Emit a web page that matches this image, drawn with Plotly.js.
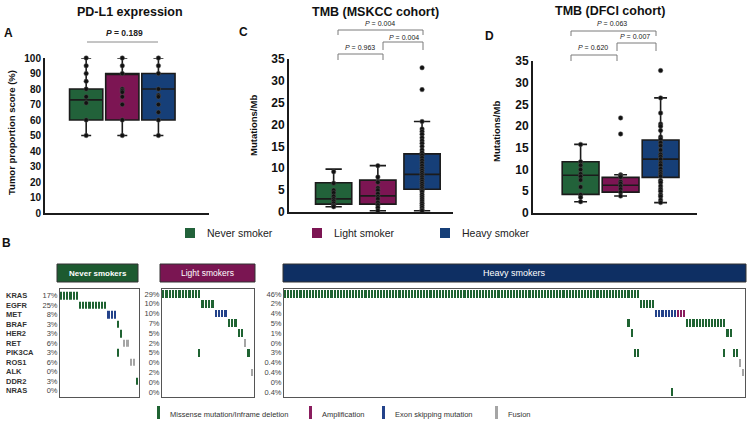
<!DOCTYPE html>
<html>
<head>
<meta charset="utf-8">
<script src="https://cdn.plot.ly/plotly-3.0.1.min.js"></script>
<style>
  html, body { margin: 0; padding: 0; background: #fff; }
  #chart { width: 750px; height: 423px; }
</style>
</head>
<body>
<div id="chart"></div>
<script>
'use strict';

const W = 750;
const H = 423;
const FONT = '"Liberation Sans", Arial, sans-serif';

const groups = ['Never smoker', 'Light smoker', 'Heavy smoker'];
const groupColors = ['#22623a', '#7c1553', '#163f78'];

// A: PD-L1 tumor proportion score (%)
const pdl1Low = [50, 50, 50];
const pdl1Q1 = [60, 60, 60];
const pdl1Median = [73, 90, 80];
const pdl1Q3 = [80, 90, 90];
const pdl1High = [100, 100, 100];
const pdl1Never = [100, 95, 90, 85, 80, 75, 71, 60, 50];
const pdl1Light = [100, 95, 90, 80, 79, 78, 75, 70, 60, 50];
const pdl1Heavy = [100, 95, 90, 80, 76, 75, 70, 65, 60, 50];
const pdl1Pvalue = '0.189';

// C: TMB, MSKCC cohort (mutations/Mb)
const mskccLow = [1.2, 0.3, 0.3];
const mskccQ1 = [1.8, 1.8, 5.2];
const mskccMedian = [3.0, 3.7, 8.6];
const mskccQ3 = [6.7, 7.3, 13.3];
const mskccHigh = [9.8, 10.6, 20.7];
const mskccNever = [9.2, 6.6, 5.0, 4.4, 3.6, 3.0, 2.5, 2.0, 1.5, 1.2];
const mskccLight = [10.6, 8.0, 6.8, 5.5, 5.0, 4.2, 3.5, 3.0, 2.2, 1.6, 1.0, 0.3];
const mskccHeavy = [33.0, 28.0, 20.7, 19.0, 18.4, 17.8, 17.0, 16.3, 15.7, 15.0, 14.2, 13.6,
  13.0, 12.4, 11.8, 11.2, 10.6, 10.0, 9.5, 9.0, 8.5, 8.0, 7.5, 7.0, 6.5, 6.0, 5.5, 5.0,
  4.6, 4.0, 3.5, 3.0, 2.5, 2.0, 1.5, 1.0, 0.5, 0.3];
// never vs light, light vs heavy, never vs heavy
const mskccPvalues = ['0.963', '0.004', '0.004'];

// D: TMB, DFCI cohort (mutations/Mb)
const dfciLow = [2.6, 3.9, 2.4];
const dfciQ1 = [4.3, 4.8, 8.2];
const dfciMedian = [8.7, 6.4, 12.4];
const dfciQ3 = [11.8, 8.2, 16.8];
const dfciHigh = [15.8, 8.8, 26.5];
const dfciNever = [15.8, 11.8, 11.0, 10.0, 9.0, 8.4, 7.6, 6.0, 4.2, 3.6, 2.6];
const dfciLight = [21.9, 18.2, 8.8, 8.6, 8.3, 7.2, 6.8, 6.2, 5.5, 4.8, 3.9];
const dfciHeavy = [32.8, 26.5, 23.0, 20.5, 20.0, 19.0, 17.5, 17.0, 16.2, 15.5, 14.5, 13.5,
  13.0, 12.4, 11.5, 11.0, 10.2, 9.5, 9.0, 8.5, 7.5, 7.0, 6.2, 5.5, 5.0, 4.2, 3.8, 3.0, 2.4];
const dfciPvalues = ['0.620', '0.007', '0.063'];

// B: oncoprint
const genes = ['KRAS', 'EGFR', 'MET', 'BRAF', 'HER2', 'RET', 'PIK3CA', 'ROS1', 'ALK', 'DDR2', 'NRAS'];
const neverPct = ['17%', '25%', '8%', '3%', '3%', '6%', '3%', '6%', '0%', '3%', '0%'];
const lightPct = ['29%', '10%', '10%', '7%', '5%', '2%', '5%', '0%', '2%', '0%', '0%'];
const heavyPct = ['46%', '2%', '4%', '5%', '1%', '0%', '3%', '0.4%', '0.4%', '0%', '0.4%'];
const altTypes = ['Missense mutation/Inframe deletion', 'Amplification', 'Exon skipping mutation', 'Fusion'];
const altColors = ['#1f6332', '#8a1d5e', '#23428a', '#a5a5a5'];

// [gene, first patient column, number of patients, alteration type 1..4]
const neverN = 25;
const neverAlts = [['KRAS', 0, 6, 1], ['EGFR', 6, 9, 1], ['MET', 15, 3, 3], ['BRAF', 18, 1, 1],
  ['PIK3CA', 18, 1, 1], ['HER2', 19, 1, 1], ['RET', 20, 2, 4], ['ROS1', 22, 2, 4], ['DDR2', 24, 1, 1]];
const lightN = 28;
const lightAlts = [['KRAS', 0, 12, 1], ['PIK3CA', 11, 1, 1], ['EGFR', 12, 4, 1], ['MET', 16, 4, 3],
  ['BRAF', 20, 3, 1], ['HER2', 23, 2, 1], ['RET', 25, 1, 4], ['PIK3CA', 26, 1, 1], ['ALK', 27, 1, 4]];
const heavyN = 149;
const heavyAlts = [['KRAS', 0, 115, 1], ['BRAF', 111, 1, 1], ['HER2', 112, 1, 1], ['PIK3CA', 113, 2, 1],
  ['EGFR', 115, 5, 1], ['MET', 120, 7, 3], ['NRAS', 125, 1, 1], ['MET', 127, 3, 2], ['BRAF', 130, 13, 1],
  ['PIK3CA', 142, 1, 1], ['HER2', 143, 2, 1], ['PIK3CA', 145, 2, 1], ['ROS1', 147, 1, 4], ['ALK', 148, 1, 4]];

// pixel -> paper helpers
const fx = px => px / W;
const fy = py => 1 - py / H;

function boxPanel(sfx, low, q1, med, q3, high, points, boxWidth, whisker) {
  const traces = [];
  groups.forEach((g, i) => {
    traces.push({
      type: 'box',
      x: [g],
      lowerfence: [low[i]],
      q1: [q1[i]],
      median: [med[i]],
      q3: [q3[i]],
      upperfence: [high[i]],
      fillcolor: groupColors[i],
      line: {color: '#1b1b1b', width: 1.6},
      width: boxWidth,
      whiskerwidth: whisker,
      boxpoints: false,
      xaxis: 'x' + sfx,
      yaxis: 'y' + sfx,
      showlegend: false,
      hoverinfo: 'skip'
    });
  });
  points.forEach((vals, i) => {
    traces.push({
      type: 'scatter',
      mode: 'markers',
      x: vals.map(() => groups[i]),
      y: vals,
      marker: {size: 4.5, color: '#111', line: {color: '#555', width: 0.5}},
      xaxis: 'x' + sfx,
      yaxis: 'y' + sfx,
      showlegend: false,
      hoverinfo: 'skip',
      cliponaxis: false
    });
  });
  return traces;
}

function oncoTrace(sfx, n, alts) {
  const z = genes.map(() => new Array(n).fill(null));
  alts.forEach(([gene, start, count, type]) => {
    const row = genes.indexOf(gene);
    for (let k = start; k < start + count; k++) z[row][k] = type;
  });
  const cols = [];
  for (let k = 0; k < n; k++) cols.push(k);
  return {
    type: 'heatmap',
    x: cols,
    y: genes,
    z: z,
    zmin: 0.5,
    zmax: 4.5,
    colorscale: [
      [0, altColors[0]], [0.25, altColors[0]],
      [0.25, altColors[1]], [0.5, altColors[1]],
      [0.5, altColors[2]], [0.75, altColors[2]],
      [0.75, altColors[3]], [1, altColors[3]]
    ],
    showscale: false,
    xgap: 1,
    ygap: 2,
    xaxis: 'x' + sfx,
    yaxis: 'y' + sfx,
    hoverinfo: 'skip'
  };
}

const data = [].concat(
  boxPanel('', pdl1Low, pdl1Q1, pdl1Median, pdl1Q3, pdl1High, [pdl1Never, pdl1Light, pdl1Heavy], 0.92, 0.3),
  boxPanel('2', mskccLow, mskccQ1, mskccMedian, mskccQ3, mskccHigh, [mskccNever, mskccLight, mskccHeavy], 0.82, 0.45),
  boxPanel('3', dfciLow, dfciQ1, dfciMedian, dfciQ3, dfciHigh, [dfciNever, dfciLight, dfciHeavy], 0.92, 0.35),
  [oncoTrace('4', neverN, neverAlts), oncoTrace('5', lightN, lightAlts), oncoTrace('6', heavyN, heavyAlts)]
);

const boxX = {showgrid: false, zeroline: false, showline: true, linecolor: '#1b1b1b', linewidth: 2,
  ticks: '', showticklabels: false, type: 'category', fixedrange: true};
const boxY = {showgrid: false, zeroline: false, showline: true, linecolor: '#1b1b1b', linewidth: 2,
  ticks: '', fixedrange: true};
const tickBold = size => ({family: FONT, size: size, color: '#111', weight: 'bold'});

const oncoX = {showgrid: false, zeroline: false, showline: true, mirror: true, linecolor: '#555', linewidth: 1,
  ticks: '', showticklabels: false, fixedrange: true};
const oncoY = {showgrid: false, zeroline: false, showline: true, mirror: true, linecolor: '#555', linewidth: 1,
  ticks: '', type: 'category', autorange: 'reversed', tickvals: genes,
  tickfont: {family: FONT, size: 7.5, color: '#444'}, fixedrange: true};
const oncoDomY = [fy(397), fy(289)];

const annotations = [];
const shapes = [];

function text(str, x, y, size, opts) {
  annotations.push(Object.assign({
    text: str, x: fx(x), y: fy(y), xref: 'paper', yref: 'paper', showarrow: false,
    xanchor: 'center', yanchor: 'middle',
    font: {family: FONT, size: size, color: '#111'}
  }, opts || {}));
}

function line(x0, y0, x1, y1, color, width) {
  shapes.push({type: 'line', xref: 'paper', yref: 'paper', x0: fx(x0), y0: fy(y0), x1: fx(x1), y1: fy(y1),
    line: {color: color, width: width}});
}

function rect(x0, y0, x1, y1, fill, border) {
  shapes.push({type: 'rect', xref: 'paper', yref: 'paper', x0: fx(x0), y0: fy(y0), x1: fx(x1), y1: fy(y1),
    fillcolor: fill, line: {color: border || fill, width: border ? 1 : 0}});
}

function bracket(x0, x1, top, leg, pval, textY, textX) {
  shapes.push({type: 'path', xref: 'paper', yref: 'paper',
    path: 'M' + fx(x0) + ',' + fy(leg) + ' L' + fx(x0) + ',' + fy(top) + ' L' + fx(x1) + ',' + fy(top) +
      ' L' + fx(x1) + ',' + fy(leg),
    line: {color: '#7a7a7a', width: 1}});
  text('<i>P</i> = ' + pval, textX, textY, 7, {font: {family: FONT, size: 7, color: '#222'}});
}

// panel titles and letters
const titleFont = {family: FONT, size: 12.5, color: '#111', weight: 'bold'};
text('PD-L1 expression', 130, 12, 12.5, {font: titleFont});
text('TMB (MSKCC cohort)', 375, 12, 12.5, {font: titleFont});
text('TMB (DFCI cohort)', 610, 11, 12.5, {font: titleFont});
const letterFont = {family: FONT, size: 12, color: '#111', weight: 'bold'};
text('A', 8, 33, 12, {font: letterFont});
text('C', 243, 32, 12, {font: letterFont});
text('D', 489, 36, 12, {font: letterFont});
text('B', 6, 243, 12, {font: letterFont});

// y-axis titles
const axTitleFont = {family: FONT, size: 9.5, color: '#111', weight: 'bold'};
text('Tumor proportion score (%)', 11, 133, 9.5, {font: axTitleFont, textangle: -90});
text('Mutations/Mb', 253, 126, 9.5, {font: axTitleFont, textangle: -90});
text('Mutations/Mb', 496, 132, 9.5, {font: axTitleFont, textangle: -90});

// p-values
line(87, 42, 158, 42, '#8a8a8a', 1);
text('<i>P</i> = ' + pdl1Pvalue, 124, 33, 8.5, {font: {family: FONT, size: 8.5, color: '#222', weight: 'bold'}});
bracket(338, 383, 54, 60, mskccPvalues[0], 47.5, 360);
bracket(383, 423, 42, 50, mskccPvalues[1], 37, 404);
bracket(338, 423, 30, 35, mskccPvalues[2], 23.5, 380);
bracket(571, 617, 55, 61, dfciPvalues[0], 48, 593);
bracket(617, 656, 43, 51, dfciPvalues[1], 36, 635);
bracket(571, 656, 31, 36, dfciPvalues[2], 23.5, 612);

// group legend
const legendX = [185, 312, 440];
groups.forEach((g, i) => {
  rect(legendX[i], 228, legendX[i] + 10, 238, groupColors[i]);
  text(g, legendX[i] + 20, 233, 10.5, {xanchor: 'left', font: {family: FONT, size: 10.5, color: '#222'}});
});

// oncoprint headers
rect(57, 264, 138, 282, '#1d5a30', '#333');
text('Never smokers', 97.5, 273, 8, {font: {family: FONT, size: 8, color: '#fff', weight: 'bold'}});
rect(160, 264, 255, 282, '#7a1552', '#333');
text('Light smokers', 207.5, 273, 8.5, {font: {family: FONT, size: 8.5, color: '#fff'}});
rect(283, 264, 746, 282, '#0e2f63', '#333');
text('Heavy smokers', 514.5, 273, 9, {font: {family: FONT, size: 9, color: '#fff'}});

// gene names
genes.forEach(g => {
  annotations.push({text: g, x: fx(4), y: g, xref: 'paper', yref: 'y4', showarrow: false,
    xanchor: 'left', yanchor: 'middle', font: {family: FONT, size: 7.5, color: '#333', weight: 'bold'}});
});

// alteration legend
const altLegendX = [157, 309, 382, 495];
altTypes.forEach((t, i) => {
  rect(altLegendX[i], 406, altLegendX[i] + 3, 419, altColors[i]);
  text(t, altLegendX[i] + 11, 414, 7.5, {xanchor: 'left', font: {family: FONT, size: 7.5, color: '#333'}});
});

const layout = {
  width: W,
  height: H,
  margin: {l: 0, r: 0, t: 0, b: 0},
  paper_bgcolor: '#fff',
  plot_bgcolor: 'rgba(0,0,0,0)',
  showlegend: false,
  font: {family: FONT, color: '#111'},
  boxmode: 'overlay',

  xaxis: Object.assign({}, boxX, {domain: [fx(45), fx(209)], range: [-1.14, 3.4], anchor: 'y'}),
  yaxis: Object.assign({}, boxY, {domain: [fy(213), fy(58)], range: [0, 100], dtick: 10,
    tickfont: tickBold(10), anchor: 'x'}),
  xaxis2: Object.assign({}, boxX, {domain: [fx(289), fx(453)], range: [-1.01, 2.7], anchor: 'y2'}),
  yaxis2: Object.assign({}, boxY, {domain: [fy(212), fy(59)], range: [0, 35], dtick: 5,
    tickfont: tickBold(12), anchor: 'x2'}),
  xaxis3: Object.assign({}, boxX, {domain: [fx(533), fx(697)], range: [-1.19, 2.91], anchor: 'y3'}),
  yaxis3: Object.assign({}, boxY, {domain: [fy(213), fy(61)], range: [0, 35], dtick: 5,
    tickfont: tickBold(12), anchor: 'x3'}),

  xaxis4: Object.assign({}, oncoX, {domain: [fx(60), fx(139)], range: [-0.5, neverN - 0.5], anchor: 'y4'}),
  yaxis4: Object.assign({}, oncoY, {domain: oncoDomY, ticktext: neverPct, anchor: 'x4'}),
  xaxis5: Object.assign({}, oncoX, {domain: [fx(162), fx(254)], range: [-0.5, lightN - 0.5], anchor: 'y5'}),
  yaxis5: Object.assign({}, oncoY, {domain: oncoDomY, ticktext: lightPct, anchor: 'x5'}),
  xaxis6: Object.assign({}, oncoX, {domain: [fx(284), fx(745)], range: [-0.5, heavyN - 0.5], anchor: 'y6'}),
  yaxis6: Object.assign({}, oncoY, {domain: oncoDomY, ticktext: heavyPct, anchor: 'x6'}),

  annotations: annotations,
  shapes: shapes
};

Plotly.newPlot('chart', data, layout, {displayModeBar: false, staticPlot: true});
</script>
</body>
</html>
